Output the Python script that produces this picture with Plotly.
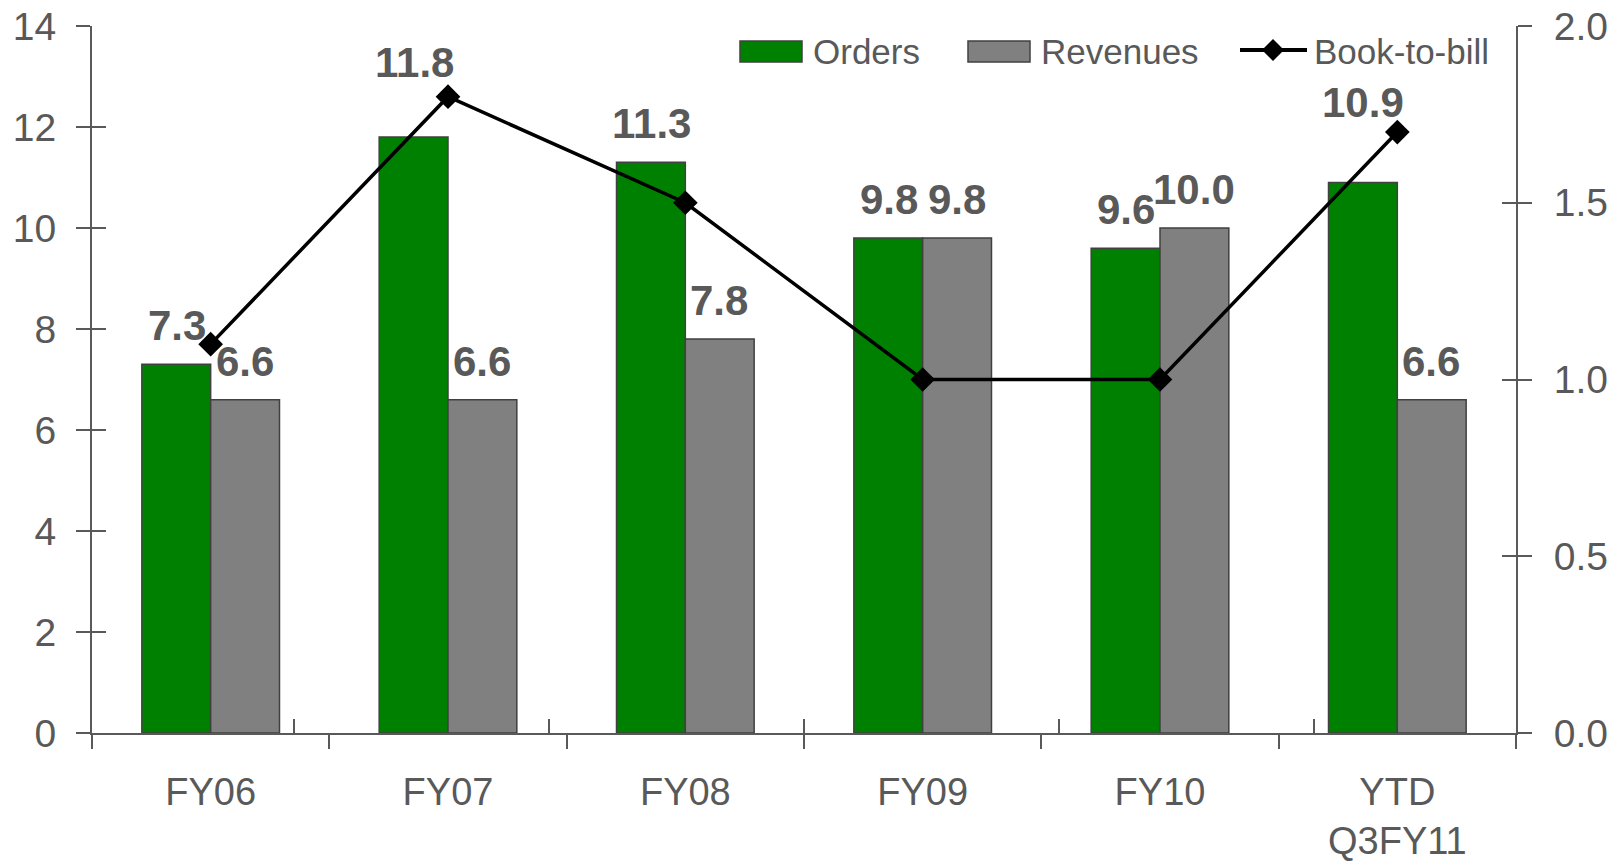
import plotly.graph_objects as go

categories = ["FY06", "FY07", "FY08", "FY09", "FY10", "YTD<br>Q3FY11"]
orders = [7.3, 11.8, 11.3, 9.8, 9.6, 10.9]
revenues = [6.6, 6.6, 7.8, 9.8, 10.0, 6.6]
book_to_bill = [1.1, 1.8, 1.5, 1.0, 1.0, 1.7]

left_ticks = [0, 2, 4, 6, 8, 10, 12, 14]
right_ticks = [0.0, 0.5, 1.0, 1.5, 2.0]

# label vertical offsets (pixels) for the order / revenue value labels
order_label_shift = [13, 49, 13, 13, 13, 55]
revenue_label_shift = [13, 13, 13, 13, 13, 13]

FONT = "Arial, Liberation Sans, sans-serif"
GREY_TXT = "#595959"
AXIS_C = "#595959"
GREEN = "#008000"
GREY_BAR = "#808080"
EDGE = "#404040"

W, H = 1616, 863
ML, MR, MT, MB = 92, 100, 26, 130
PW, PH = W - ML - MR, H - MT - MB


def px(x):
    return (x - ML) / PW


def py(y):
    return (H - MB - y) / PH


fig = go.Figure()
fig.add_trace(go.Bar(x=categories, y=orders, name="Orders",
                     marker=dict(color=GREEN, line=dict(color=EDGE, width=1.5)),
                     xaxis="x", yaxis="y"))
fig.add_trace(go.Bar(x=categories, y=revenues, name="Revenues",
                     marker=dict(color=GREY_BAR, line=dict(color=EDGE, width=1.5)),
                     xaxis="x", yaxis="y"))
fig.add_trace(go.Scatter(x=categories, y=book_to_bill, name="Book-to-bill",
                         mode="lines+markers",
                         line=dict(color="black", width=3.5),
                         marker=dict(symbol="diamond", size=19, color="black"),
                         xaxis="x", yaxis="y2"))
# helper invisible traces to activate inner-tick axes
fig.add_trace(go.Scatter(x=categories, y=[None]*len(categories), showlegend=False,
                         hoverinfo="skip", xaxis="x2", yaxis="y3"))
fig.add_trace(go.Scatter(x=categories, y=[None]*len(categories), showlegend=False,
                         hoverinfo="skip", xaxis="x", yaxis="y4"))

label_font = dict(family=FONT, size=42, color=GREY_TXT)
annotations = []
for i, c in enumerate(categories):
    annotations.append(dict(x=c, y=orders[i], xref="x", yref="y", text=f"<b>{orders[i]:.1f}</b>",
                            showarrow=False, xshift=-34, yshift=order_label_shift[i],
                            yanchor="bottom", font=label_font))
    annotations.append(dict(x=c, y=revenues[i], xref="x", yref="y", text=f"<b>{revenues[i]:.1f}</b>",
                            showarrow=False, xshift=34, yshift=revenue_label_shift[i],
                            yanchor="bottom", font=label_font))

# custom legend (pixel layout converted to paper coordinates)
shapes = []
legend_font = dict(family=FONT, size=35, color=GREY_TXT)
yc = 51
shapes.append(dict(type="rect", xref="paper", yref="paper", x0=px(740), x1=px(802),
                   y0=py(41), y1=py(62), fillcolor=GREEN, line=dict(color=EDGE, width=1.5)))
annotations.append(dict(xref="paper", yref="paper", x=px(811), y=py(yc), xanchor="left",
                        yanchor="middle", text="Orders", showarrow=False, font=legend_font))
shapes.append(dict(type="rect", xref="paper", yref="paper", x0=px(968), x1=px(1030),
                   y0=py(41), y1=py(62), fillcolor=GREY_BAR, line=dict(color=EDGE, width=1.5)))
annotations.append(dict(xref="paper", yref="paper", x=px(1039), y=py(yc), xanchor="left",
                        yanchor="middle", text="Revenues", showarrow=False, font=legend_font))
shapes.append(dict(type="line", xref="paper", yref="paper", x0=px(1240), x1=px(1307),
                   y0=py(50), y1=py(50), line=dict(color="black", width=4)))
dc, dr = 1273, 11
shapes.append(dict(type="path", xref="paper", yref="paper",
                   path=f"M {px(dc - dr)} {py(50)} L {px(dc)} {py(50 - dr)} L {px(dc + dr)} {py(50)} L {px(dc)} {py(50 + dr)} Z",
                   fillcolor="black", line=dict(color="black", width=0)))
annotations.append(dict(xref="paper", yref="paper", x=px(1312), y=py(yc), xanchor="left",
                        yanchor="middle", text="Book-to-bill", showarrow=False, font=legend_font))

tickfont = dict(family=FONT, size=39, color=GREY_TXT)
xtickfont = dict(family=FONT, size=38, color=GREY_TXT)

fig.update_layout(
    width=W, height=H,
    margin=dict(l=ML, r=MR, t=MT, b=MB, autoexpand=False),
    paper_bgcolor="white", plot_bgcolor="white",
    barmode="group", bargap=0.42, bargroupgap=0,
    font=dict(family=FONT, color=GREY_TXT),
    showlegend=False,
    xaxis=dict(type="category", showline=True, linecolor=AXIS_C, linewidth=2,
               ticks="outside", ticklen=14, tickwidth=2, tickcolor=AXIS_C,
               tickson="boundaries", tickfont=xtickfont, showgrid=False,
               zeroline=False, ticklabelstandoff=24, automargin=False,
               ticklabeloverflow="allow"),
    xaxis2=dict(type="category", overlaying="x", anchor="y", side="bottom",
                showline=False, ticks="inside", ticklen=14, tickwidth=2, tickcolor=AXIS_C,
                tickson="boundaries", showticklabels=False, showgrid=False, zeroline=False,
                automargin=False),
    yaxis=dict(range=[0, 14], tickvals=left_ticks, showline=True, linecolor=AXIS_C, linewidth=2,
               ticks="outside", ticklen=14, tickwidth=2, tickcolor=AXIS_C,
               tickfont=tickfont, showgrid=False, zeroline=False, ticklabelstandoff=12,
               automargin=False, ticklabeloverflow="allow"),
    yaxis3=dict(range=[0, 14], tickvals=left_ticks, overlaying="y", side="left", anchor="x2",
                showline=False, ticks="inside", ticklen=14, tickwidth=2, tickcolor=AXIS_C,
                showticklabels=False, showgrid=False, zeroline=False, automargin=False),
    yaxis2=dict(range=[0, 2], tickvals=right_ticks, tickformat=".1f", overlaying="y", side="right",
                anchor="x", showline=True, linecolor=AXIS_C, linewidth=2,
                ticks="outside", ticklen=14, tickwidth=2, tickcolor=AXIS_C,
                tickfont=tickfont, showgrid=False, zeroline=False, ticklabelstandoff=14,
                automargin=False, ticklabeloverflow="allow"),
    yaxis4=dict(range=[0, 2], tickvals=right_ticks, overlaying="y", side="right", anchor="x",
                showline=False, ticks="inside", ticklen=14, tickwidth=2, tickcolor=AXIS_C,
                showticklabels=False, showgrid=False, zeroline=False, automargin=False),
    annotations=annotations,
    shapes=shapes,
)

# remove the browser's default 8px body margin so the figure fills the window exactly
fig.write_html("out.html", config={"displayModeBar": False},
               post_script="document.body.style.margin='0';document.body.style.overflow='hidden';")
